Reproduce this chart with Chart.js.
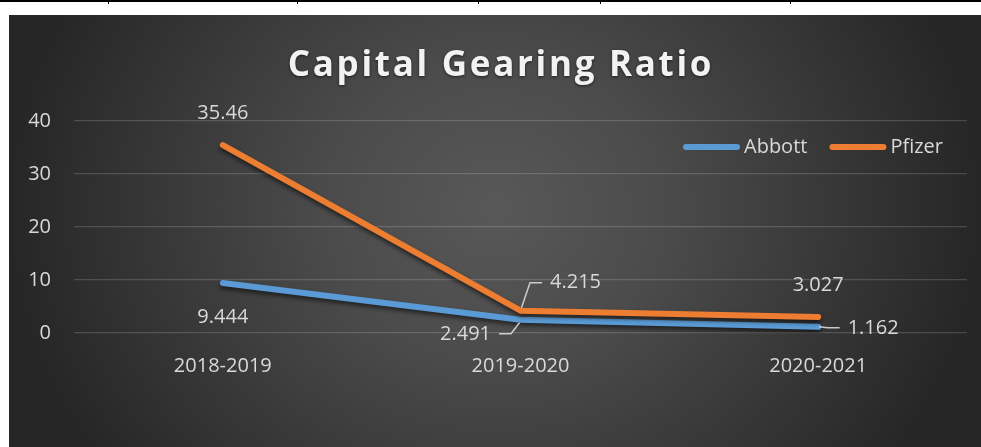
<!DOCTYPE html>
<html>
<head>
<meta charset="utf-8">
<script src="https://cdn.jsdelivr.net/npm/chart.js@4.4.0/dist/chart.umd.min.js"></script>
<style>
html, body { margin: 0; padding: 0; background: #fff; }
body { width: 981px; height: 447px; position: relative; overflow: hidden; }
#rule { position: absolute; left: 0; top: 0; width: 981px; height: 2px; background: #000; }
.tick { position: absolute; top: 0; width: 1px; height: 4px; background: #000; }
#box {
	position: absolute; left: 9px; top: 15px; width: 972px; height: 432px;
	background: radial-gradient(ellipse 50% 100% at 50% 45%, #585858 0%, #4b4b4b 35%, #262626 100%);
}
</style>
</head>
<body>
<div id="rule"></div>
<div class="tick" style="left:108px"></div>
<div class="tick" style="left:297px"></div>
<div class="tick" style="left:478px"></div>
<div class="tick" style="left:600px"></div>
<div class="tick" style="left:790px"></div>
<div id="box"><canvas id="mycanvas"></canvas></div>
<script>
var title = 'Capital Gearing Ratio';
var years = ['2018-2019', '2019-2020', '2020-2021'];
var abbott = [9.444, 2.491, 1.162];
var pfizer = [35.46, 4.215, 3.027];
var yTicks = [0, 10, 20, 30, 40];

// where each value label sits relative to its point (px)
var abbottLabels = [{dx: 0, dy: 34}, {dx: -55, dy: 14, leader: true}, {dx: 55, dy: 1, leader: true}];
var pfizerLabels = [{dx: 0, dy: -32}, {dx: 55, dy: -28, leader: true}, {dx: 0, dy: -32}];

var textColor = '#d9d9d9';
var fontFamily = "'Open Sans', sans-serif";

var extras = {
	id: 'extras',
	beforeDatasetsDraw: function(chart) {
		var ctx = chart.ctx;
		ctx.save();
		ctx.shadowColor = 'rgba(0,0,0,0.55)';
		ctx.shadowBlur = 4;
		ctx.shadowOffsetY = 3;
	},
	afterDatasetsDraw: function(chart) {
		var ctx = chart.ctx;
		ctx.restore();

		// title, spaced out like the original
		ctx.save();
		ctx.font = 'bold 35px ' + fontFamily;
		ctx.letterSpacing = '2.7px';
		ctx.fillStyle = '#f2f2f2';
		ctx.textAlign = 'center';
		ctx.textBaseline = 'alphabetic';
		ctx.shadowColor = 'rgba(0,0,0,0.6)';
		ctx.shadowBlur = 3;
		ctx.shadowOffsetY = 1;
		ctx.fillText(title, chart.width / 2 + 6, 61);
		ctx.restore();

		// value labels
		ctx.save();
		ctx.font = '20px ' + fontFamily;
		ctx.fillStyle = textColor;
		ctx.textAlign = 'center';
		ctx.textBaseline = 'middle';
		chart.data.datasets.forEach(function(ds, di) {
			var meta = chart.getDatasetMeta(di);
			meta.data.forEach(function(pt, i) {
				var place = ds.labelPlace[i];
				var txt = String(ds.data[i]);
				var lx = pt.x + place.dx, ly = pt.y + place.dy;
				ctx.fillText(txt, lx, ly);
				if (place.leader) {
					var w = ctx.measureText(txt).width;
					var side = place.dx > 0 ? -1 : 1;
					var x0 = lx + side * (w / 2 + 8);
					var x1 = x0 + side * 12;
					if (side < 0) x1 = Math.max(x1, pt.x + 2); else x1 = Math.min(x1, pt.x - 2);
					var yEnd = pt.y + (place.dy < -4 ? -3 : (place.dy > 4 ? 3 : 0));
					ctx.beginPath();
					ctx.strokeStyle = 'rgba(217,217,217,0.9)';
					ctx.lineWidth = 1.5;
					ctx.moveTo(x0, ly);
					ctx.lineTo(x1, ly);
					ctx.lineTo(pt.x - side * 1, yEnd);
					ctx.stroke();
				}
			});
		});

		// legend inside the plot, top right
		var items = chart.data.datasets.map(function(ds) {
			return {text: ds.label, color: ds.borderColor, w: ctx.measureText(ds.label).width};
		});
		var lineLen = 57, gap = 4, between = 22;
		var total = 0;
		items.forEach(function(it, i) { total += lineLen + gap + it.w + (i ? between : 0); });
		var x = chart.chartArea.right - 24 - total;
		var y = chart.chartArea.top + 26;
		ctx.textAlign = 'left';
		items.forEach(function(it) {
			ctx.beginPath();
			ctx.strokeStyle = it.color;
			ctx.lineWidth = 6;
			ctx.lineCap = 'round';
			ctx.moveTo(x + 3, y);
			ctx.lineTo(x + lineLen - 3, y);
			ctx.stroke();
			ctx.fillStyle = textColor;
			ctx.fillText(it.text, x + lineLen + gap, y);
			x += lineLen + gap + it.w + between;
		});
		ctx.restore();
	}
};

var chartdata = {
	labels: years,
	datasets: [
		{
			label: 'Abbott',
			data: abbott,
			borderColor: '#5b9bd5',
			backgroundColor: '#5b9bd5',
			labelPlace: abbottLabels,
			order: 1
		},
		{
			label: 'Pfizer',
			data: pfizer,
			borderColor: '#ed7d31',
			backgroundColor: '#ed7d31',
			labelPlace: pfizerLabels,
			order: 0
		}
	]
};

var ctx = document.getElementById('mycanvas');

var Graph = new Chart(ctx, {
	type: 'line',
	data: chartdata,
	plugins: [extras],
	options: {
		responsive: true,
		maintainAspectRatio: false,
		animation: false,
		events: [],
		layout: { padding: { left: 0, right: 14, top: 106, bottom: 48 } },
		elements: {
			line: { borderWidth: 6, tension: 0, borderCapStyle: 'round', borderJoinStyle: 'round' },
			point: { radius: 0, hoverRadius: 0 }
		},
		plugins: {
			legend: { display: false },
			tooltip: { enabled: false },
			title: { display: false }
		},
		scales: {
			x: {
				offset: true,
				grid: { display: false, drawTicks: false },
				border: { display: false },
				ticks: { color: textColor, font: { family: fontFamily, size: 20 }, padding: 21 }
			},
			y: {
				min: yTicks[0],
				max: yTicks[yTicks.length - 1],
				grid: { color: 'rgba(255,255,255,0.16)', lineWidth: 1.2, drawTicks: false },
				border: { display: false },
				ticks: {
					stepSize: yTicks[1] - yTicks[0],
					color: textColor,
					font: { family: fontFamily, size: 20 },
					padding: 23
				},
				afterFit: function(scale) { scale.width = 65; }
			}
		}
	}
});
</script>
</body>
</html>
